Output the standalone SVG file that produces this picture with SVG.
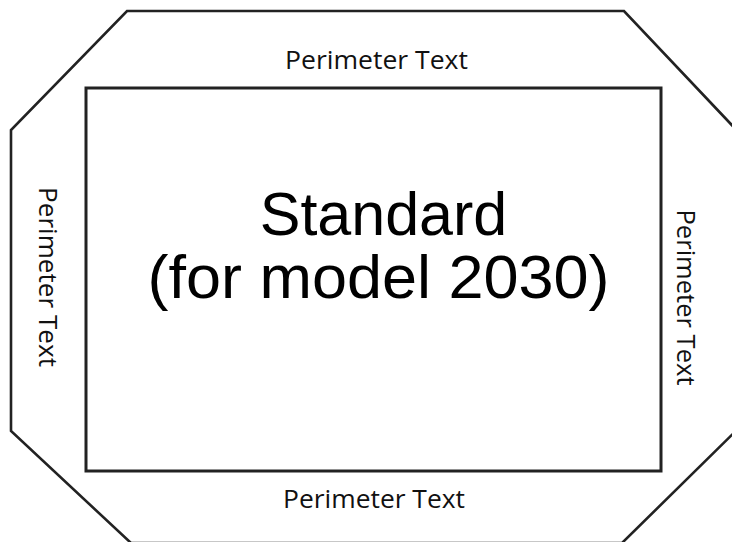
<svg xmlns="http://www.w3.org/2000/svg" width="732" height="542" viewBox="0 0 732 542">
<style>
.shape{fill:none;stroke:#222;stroke-linejoin:miter}
.per{font-family:"Open Sans","Noto Sans",sans-serif;font-size:26px;fill:#111;text-anchor:middle}
.main{font-family:"Liberation Sans",Arial,sans-serif;font-size:61px;fill:#000;text-anchor:middle}
</style>
<rect width="732" height="542" fill="#fff"/>
<g id="outline">
<polygon class="shape" stroke-width="2.6" points="127,11 624,11 745,139 745,422 622,543 131,543 11,431 11,130"/>
</g>
<g id="panel">
<rect class="shape" stroke-width="3" x="86" y="88" width="575" height="383"/>
<text class="main" x="383.5" y="235">Standard</text>
<text class="main" x="378.5" y="298" textLength="462" lengthAdjust="spacingAndGlyphs">(for model 2030)</text>
</g>
<g id="perimeter-top"><text class="per" x="376.5" y="69" textLength="183" lengthAdjust="spacingAndGlyphs">Perimeter Text</text></g>
<g id="perimeter-bottom"><text class="per" x="374" y="507.5" textLength="182" lengthAdjust="spacingAndGlyphs">Perimeter Text</text></g>
<g id="perimeter-left"><text class="per" transform="translate(39,277) rotate(90)" x="0" y="0" textLength="180" lengthAdjust="spacingAndGlyphs">Perimeter Text</text></g>
<g id="perimeter-right"><text class="per" transform="translate(677,297.5) rotate(90)" x="0" y="0" textLength="176" lengthAdjust="spacingAndGlyphs">Perimeter Text</text></g>
<g id="connectors"></g>
</svg>
